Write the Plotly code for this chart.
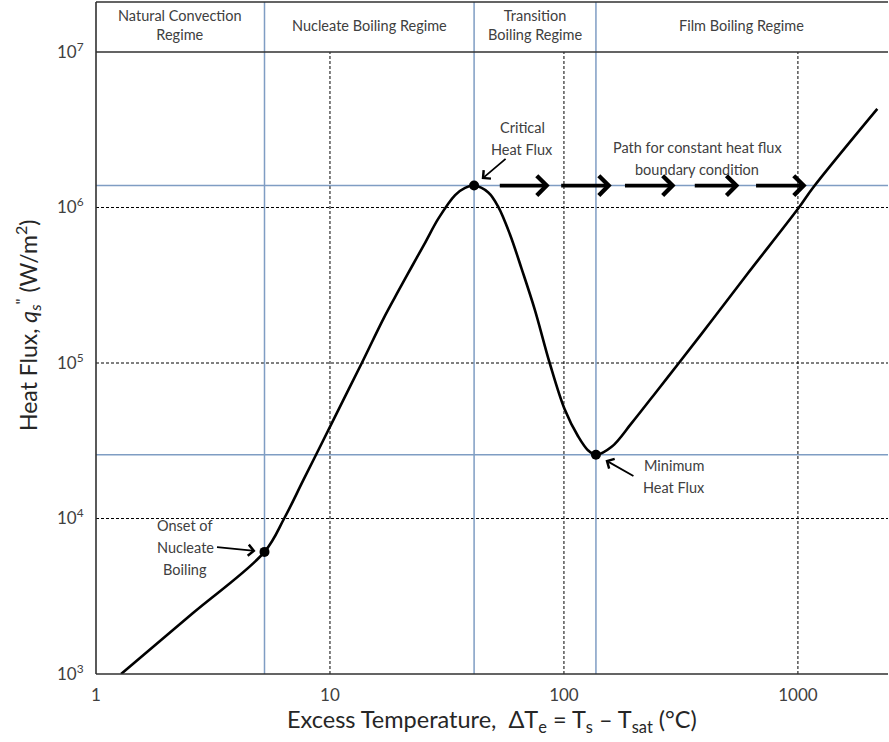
import math
import plotly.graph_objects as go

# Pool boiling curve: excess temperature (°C) vs. surface heat flux (W/m²)
delta_t = [1.28, 2.59, 5.25, 6.37, 7.71, 9.34, 11.3, 13.68, 16.98, 19.66, 22.39, 25.53, 29.09, 34.27, 37.8, 41.3,
           47.5, 52.4, 58.75, 65.9, 75.1, 86.9, 100.7, 114.9, 126.9, 137,
           159.9, 195, 254.2, 309.9, 430, 601, 1010, 1164, 2184]
heat_flux = [1000, 2460, 6100, 10000, 17780, 31620, 56230, 1e5, 194500, 292600, 417400, 595300, 851000,
             1.202e6, 1.337e6, 1.384e6,
             1.25e6, 1.01e6, 673000, 404600, 219800, 1e5, 50400, 33800, 27400, 25700,
             28900, 41200, 68370, 1e5, 188800, 365600, 1e6, 1.35e6, 4.31e6]

# Characteristic points
onb = (5.25, 6100)        # onset of nucleate boiling
chf = (41.3, 1.384e6)     # critical heat flux
mhf = (137, 25700)        # minimum heat flux

# Constant heat-flux path segments (start, end) in °C
path_start = [52.4, 95.9, 179.6, 357, 652.6]
path_end = [86.9, 160, 300, 562, 1090]

regimes = ["Natural Convection<br>Regime", "Nucleate Boiling Regime",
           "Transition<br>Boiling Regime", "Film Boiling Regime"]

x_ticks = [1, 10, 100, 1000]
x_ticktext = ["1", "10", "100", "1000"]
y_ticks = [1e3, 1e4, 1e5, 1e6, 1e7]
y_ticktext = ["10<sup>3</sup>", "10<sup>4</sup>", "10<sup>5</sup>", "10<sup>6</sup>", "10<sup>7</sup>"]

X_RANGE = [0, 3.385]
Y_RANGE = [3, 7]
W, H = 889, 742
L, R, T, B = 96, 1, 52, 68
PW, PH = W - L - R, H - T - B
HEADER_TOP = 1 + 50 / PH

FONT = "Lato"
TXT = "#404040"
BLUE = "#7f9dc3"
lg = math.log10


def px_x(px):
    return (px - L) / PW


def px_y(py):
    return (H - B - py) / PH


fig = go.Figure()

fig.add_trace(go.Scatter(x=delta_t, y=heat_flux, mode="lines",
                         line=dict(color="black", width=2.6, shape="spline", smoothing=1.0),
                         hoverinfo="skip", showlegend=False))
fig.add_trace(go.Scatter(x=[onb[0], chf[0], mhf[0]], y=[onb[1], chf[1], mhf[1]], mode="markers",
                         marker=dict(color="black", size=10), hoverinfo="skip", showlegend=False))

shapes = []
# dashed decade grid
for xv in x_ticks[1:]:
    shapes.append(dict(type="line", xref="x", yref="paper", x0=xv, x1=xv, y0=0, y1=1,
                       line=dict(color="black", width=1, dash="3px,2px"), layer="below"))
for yv in y_ticks[1:-1]:
    shapes.append(dict(type="line", xref="paper", yref="y", x0=0, x1=1, y0=yv, y1=yv,
                       line=dict(color="black", width=1, dash="3px,2px"), layer="below"))
# regime boundaries and characteristic flux levels
for xv in [onb[0], chf[0], mhf[0]]:
    shapes.append(dict(type="line", xref="x", yref="paper", x0=xv, x1=xv, y0=0, y1=HEADER_TOP,
                       line=dict(color=BLUE, width=1.5), layer="below"))
for yv in [chf[1], mhf[1]]:
    shapes.append(dict(type="line", xref="paper", yref="y", x0=0, x1=1, y0=yv, y1=yv,
                       line=dict(color=BLUE, width=1.5), layer="below"))
# frame and header band
for (x0, y0, x1, y1) in [(0, 0, 0, HEADER_TOP), (0, 0, 1, 0), (0, 1, 1, 1),
                         (0, HEADER_TOP, 1, HEADER_TOP)]:
    shapes.append(dict(type="line", xref="paper", yref="paper", x0=x0, x1=x1, y0=y0, y1=y1,
                       line=dict(color="#303030", width=1.6)))

annotations = []
# regime headers, centred between regime boundaries
bounds = [0, lg(onb[0]), lg(chf[0]), lg(mhf[0]), X_RANGE[1]]
for i, name in enumerate(regimes):
    annotations.append(dict(x=(bounds[i] + bounds[i + 1]) / 2, xref="x", y=px_y(25), yref="paper",
                            text=name, showarrow=False, font=dict(family=FONT, size=14.5, color=TXT),
                            xanchor="center", yanchor="middle"))


def text_lines(lines, cx, ys):
    for s, py in zip(lines, ys):
        annotations.append(dict(x=px_x(cx), y=px_y(py), xref="paper", yref="paper", text=s,
                                showarrow=False, font=dict(family=FONT, size=14.5, color=TXT),
                                xanchor="center", yanchor="middle"))


text_lines(["Onset of", "Nucleate", "Boiling"], 185, [525, 547, 569])
text_lines(["Critical", "Heat Flux"], 522, [127, 149])
text_lines(["Path for constant heat flux", "boundary condition"], 697, [147, 169])
text_lines(["Minimum", "Heat Flux"], 674, [465, 487])

# pointer arrows to the characteristic points
for pt, ax, ay, so in [(onb, -49, -5, 9), (chf, 33, -28, 10), (mhf, 39, 22, 11)]:
    annotations.append(dict(x=lg(pt[0]), y=lg(pt[1]), xref="x", yref="y", ax=ax, ay=ay, text="",
                            showarrow=True, arrowhead=4, arrowwidth=1.8, arrowsize=1.2,
                            arrowcolor="black", standoff=so))
# constant heat-flux path
for s, e in zip(path_start, path_end):
    annotations.append(dict(x=lg(e), y=lg(chf[1]), xref="x", yref="y", ax=lg(s), ay=lg(chf[1]),
                            axref="x", ayref="y", text="", showarrow=True, arrowhead=4,
                            arrowwidth=3.8, arrowsize=1.0, arrowcolor="black"))

# axis titles
annotations.append(dict(x=0.5, y=px_y(721), xref="paper", yref="paper", showarrow=False,
                        text="Excess Temperature,  ΔT<sub>e</sub> = T<sub>s</sub> – T<sub>sat</sub> (°C)",
                        font=dict(family=FONT, size=23.5, color="#262626"), xanchor="center", yanchor="middle"))
annotations.append(dict(x=px_x(27), y=px_y(326), xref="paper", yref="paper", showarrow=False, textangle=-90,
                        text="Heat Flux, <i>q</i><sub><i>s</i></sub><sup>\"</sup> (W/m<sup>2</sup>)",
                        font=dict(family=FONT, size=23, color="#262626"), xanchor="center", yanchor="middle"))

fig.update_layout(
    width=W, height=H, margin=dict(l=L, r=R, t=T, b=B),
    paper_bgcolor="white", plot_bgcolor="white",
    shapes=shapes, annotations=annotations, showlegend=False,
    xaxis=dict(type="log", range=X_RANGE, showgrid=False, zeroline=False, showline=False,
               tickvals=x_ticks, ticktext=x_ticktext, ticks="outside", ticklen=6,
               tickcolor="rgba(0,0,0,0)", tickfont=dict(family=FONT, size=17, color=TXT)),
    yaxis=dict(type="log", range=Y_RANGE, showgrid=False, zeroline=False, showline=False,
               tickvals=y_ticks, ticktext=y_ticktext, ticks="outside", ticklen=8,
               tickcolor="rgba(0,0,0,0)", tickfont=dict(family=FONT, size=17, color=TXT)),
)

fig.write_html("out.html")
